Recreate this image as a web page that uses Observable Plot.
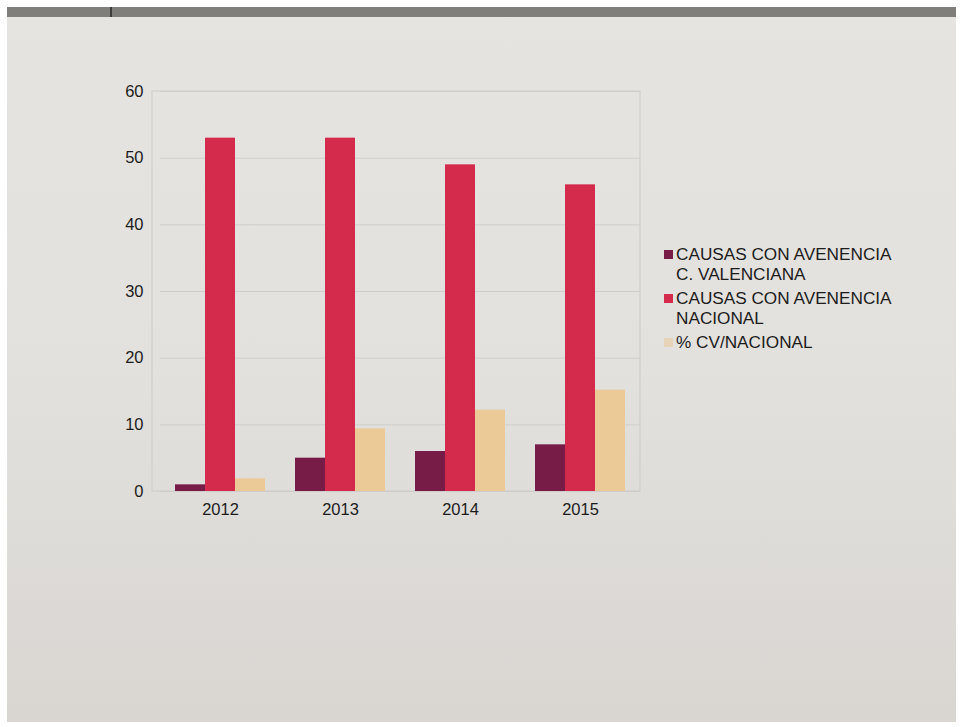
<!DOCTYPE html>
<html>
<head>
<meta charset="utf-8">
<script src="https://cdn.jsdelivr.net/npm/d3@7"></script>
<script src="https://cdn.jsdelivr.net/npm/@observablehq/plot@0.6"></script>
<style>
  html, body { margin: 0; padding: 0; background: #ffffff; width: 964px; height: 727px; overflow: hidden; }
  #paper { position: absolute; left: 7px; top: 7px; width: 949px; height: 715px;
           background: linear-gradient(180deg, #e6e4e0 0%, #e3e1dd 50%, #d9d6d2 100%); }
  #strip { position: absolute; left: 7px; top: 7px; width: 949px; height: 10px; background: #7f7e7b; }
  #strip2 { position: absolute; left: 110px; top: 7px; width: 2px; height: 10px; background: #3e3d3b; }
  #chart { position: absolute; left: 0; top: 0; }
  #legend { position: absolute; left: 664px; top: 245px; font-family: "Liberation Sans", Arial, sans-serif;
            font-size: 17.2px; color: #1c1c1c; line-height: 19.5px; }
  .item { position: relative; padding-left: 12px; margin-bottom: 5px; }
  .sw { position: absolute; left: 0; top: 5px; width: 9px; height: 9px; }
</style>
</head>
<body>
<div id="paper"></div>
<div id="strip"></div>
<div id="strip2"></div>
<div id="chart"></div>
<div id="legend"></div>
<script>
const years = ["2012", "2013", "2014", "2015"];
const seriesNames = ["CAUSAS CON AVENENCIA C. VALENCIANA", "CAUSAS CON AVENENCIA NACIONAL", "% CV/NACIONAL"];
const legendLines = [["CAUSAS CON AVENENCIA", "C. VALENCIANA"], ["CAUSAS CON AVENENCIA", "NACIONAL"], ["% CV/NACIONAL"]];
const valenciana = [1, 5, 6, 7];
const nacional = [53, 53, 49, 46];
const porcentaje = [1.9, 9.4, 12.2, 15.2];
const colors = ["#761c47", "#d42b4c", "#ebca98"];
const yTicks = [0, 10, 20, 30, 40, 50, 60];

const rows = [];
years.forEach((yr, i) => {
  rows.push({year: yr, series: seriesNames[0], value: valenciana[i]});
  rows.push({year: yr, series: seriesNames[1], value: nacional[i]});
  rows.push({year: yr, series: seriesNames[2], value: porcentaje[i]});
});

const W = 662, H = 540, mL = 159, mR = 21, mT = 91, mB = 49;

const chart = Plot.plot({
  width: W,
  height: H,
  marginLeft: mL,
  marginRight: mR,
  marginTop: mT,
  marginBottom: mB,
  style: {fontFamily: "'Liberation Sans', Arial, sans-serif", fontSize: "16.5px", color: "#1c1c1c", background: "transparent"},
  fx: {domain: years, padding: 0, label: null, tickSize: 0, tickPadding: 12, axis: "bottom"},
  x: {domain: seriesNames, paddingInner: 0, paddingOuter: 0.445, axis: null},
  y: {domain: [0, 60], ticks: yTicks, tickSize: 0, tickPadding: 17, label: null},
  color: {domain: seriesNames, range: colors},
  marks: [
    Plot.ruleY(yTicks, {stroke: "#cfcdc9", strokeWidth: 1}),
    Plot.barY(rows, {fx: "year", x: "series", y: "value", fill: "series"})
  ]
});
document.getElementById("chart").appendChild(chart);

// light frame around the plot area
const svg = d3.select(chart.tagName.toLowerCase() === "svg" ? chart : chart.querySelector("svg"));
svg.insert("rect", ":first-child")
  .attr("x", mL - 7).attr("y", mT)
  .attr("width", W - mL - mR + 6).attr("height", H - mT - mB)
  .attr("fill", "none").attr("stroke", "#cdcbc7");

// legend
const legend = d3.select("#legend");
legendLines.forEach((lines, i) => {
  const it = legend.append("div").attr("class", "item");
  it.append("div").attr("class", "sw").style("background", i === 2 ? "#e6d3b8" : colors[i]);
  lines.forEach(t => it.append("div").text(t));
});
</script>
</body>
</html>
